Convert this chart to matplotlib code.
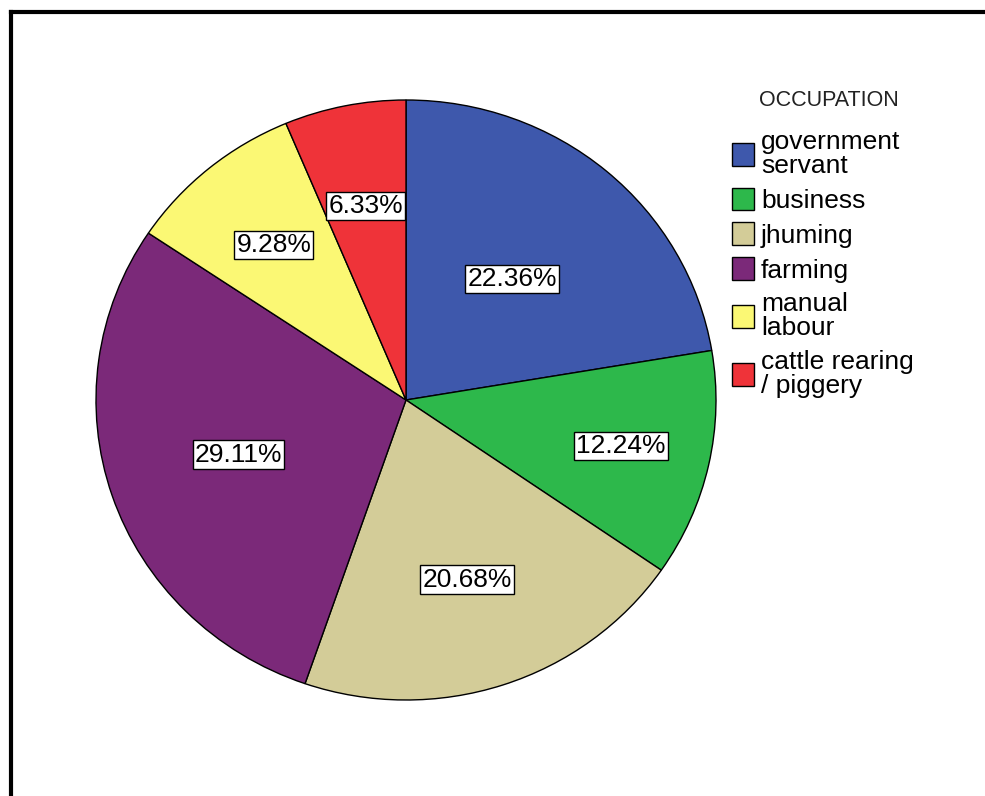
import matplotlib
matplotlib.use("Agg")
import matplotlib.pyplot as plt
import numpy as np
from matplotlib.lines import Line2D

plt.rcParams["font.family"] = ["Liberation Sans", "DejaVu Sans"]

# Occupation shares (%)
occupations = ["government\nservant", "business", "jhuming", "farming",
               "manual\nlabour", "cattle rearing\n/ piggery"]
shares = [22.36, 12.24, 20.68, 29.11, 9.28, 6.33]
colors = ["#3E58AC", "#2DB84B", "#D3CC98", "#7B2979", "#FBF874", "#EF3339"]

# how far out each percentage label sits (fraction of radius)
label_dist = [0.53, 0.71, 0.63, 0.57, 0.67, 0.66]

fig = plt.figure(figsize=(9.85, 7.96), dpi=100)
W, H = 985, 796
cx, cy, rx, ry = 406, 400, 310, 300
ax = fig.add_axes([(cx - rx) / W, (H - cy - ry) / H, 2 * rx / W, 2 * ry / H])

wedges, _ = ax.pie(shares, colors=colors, startangle=90, counterclock=False,
                   radius=1.0, wedgeprops=dict(edgecolor="black", linewidth=1.0))
ax.set_aspect("auto")
ax.set_xlim(-1, 1)
ax.set_ylim(-1, 1)
ax.axis("off")

for w, val, d in zip(wedges, shares, label_dist):
    ang = np.deg2rad((w.theta1 + w.theta2) / 2)
    ax.text(d * np.cos(ang), d * np.sin(ang), f"{val:.2f}%", fontsize=19,
            ha="center", va="center", color="black",
            bbox=dict(boxstyle="square,pad=0.08", facecolor="white",
                      edgecolor="black", linewidth=1.0))

leg = fig.legend(wedges, occupations, frameon=False,
                 loc="upper left", bbox_to_anchor=(732 / W, 1 - 130 / H),
                 fontsize=19, handlelength=0.85,
                 handleheight=0.95, handletextpad=0.25, labelspacing=0.36,
                 borderpad=0.0, borderaxespad=0.0)
for t in leg.get_texts():
    t.set_linespacing(1.0)
for h in leg.legend_handles:
    h.set_edgecolor("black")
    h.set_linewidth(1.0)

fig.text(829 / W, 1 - 100 / H, "OCCUPATION", fontsize=15.5, color="#222222",
         ha="center", va="center")

# outer frame (top and left edges)
fig.add_artist(Line2D([10.5 / W, 1.0], [1 - 12 / H, 1 - 12 / H], color="black",
                      linewidth=3.0, transform=fig.transFigure))
fig.add_artist(Line2D([10.8 / W, 10.8 / W], [0.0, 1 - 12 / H], color="black",
                      linewidth=3.0, transform=fig.transFigure))

fig.savefig("out.png", dpi=100)
